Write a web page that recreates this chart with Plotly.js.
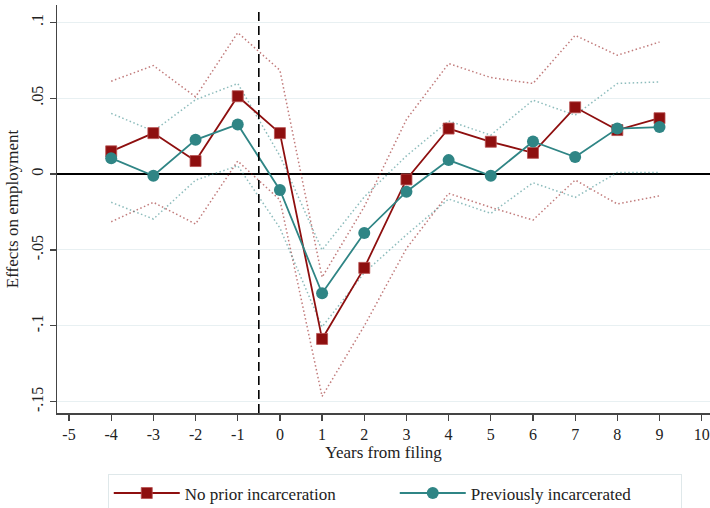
<!DOCTYPE html>
<html>
<head>
<meta charset="utf-8">
<script src="https://cdn.plot.ly/plotly-3.0.1.min.js"></script>
<style>html,body{margin:0;padding:0;background:#fff;}#chart{width:710px;height:508px;}</style>
</head>
<body>
<div id="chart"></div>
<script>
const years = [-4, -3, -2, -1, 0, 1, 2, 3, 4, 5, 6, 7, 8, 9];
const noPrior = [0.015, 0.027, 0.0086, 0.0513, 0.027, -0.1086, -0.0618, -0.0035, 0.030, 0.0213, 0.014, 0.044, 0.029, 0.0368];
const noPriorUpper = [0.0612, 0.0715, 0.0509, 0.0932, 0.0684, -0.068, -0.0215, 0.036, 0.0728, 0.0636, 0.0597, 0.0914, 0.0783, 0.087];
const noPriorLower = [-0.0314, -0.0186, -0.0329, 0.0086, -0.017, -0.1465, -0.10, -0.049, -0.0127, -0.0219, -0.0303, -0.0039, -0.0197, -0.0143];
const prevInc = [0.0105, -0.0011, 0.0226, 0.0327, -0.0105, -0.0785, -0.0388, -0.0116, 0.0092, -0.0011, 0.0215, 0.0112, 0.030, 0.031];
const prevIncUpper = [0.040, 0.0283, 0.049, 0.0597, 0.012, -0.05, -0.015, 0.012, 0.035, 0.0257, 0.0487, 0.0388, 0.0597, 0.0607];
const prevIncLower = [-0.0186, -0.0296, -0.004, 0.0055, -0.0355, -0.1007, -0.065, -0.04, -0.0164, -0.0259, -0.0057, -0.0153, 0.0011, 0.0011];
const xTicks = [-5, -4, -3, -2, -1, 0, 1, 2, 3, 4, 5, 6, 7, 8, 9, 10];
const yTickVals = [-0.15, -0.1, -0.05, 0, 0.05, 0.1];
const yTickText = ['-.15', '-.1', '-.05', '0', '.05', '.1'];
const seriesNames = ['No prior incarceration', 'Previously incarcerated'];

const red = '#8e0f0f';
const teal = '#2f8585';
const font = 'Liberation Serif, Times New Roman, serif';

function ci(y, color) {
  return {x: years, y: y, type: 'scatter', mode: 'lines', showlegend: false, hoverinfo: 'skip',
    line: {color: color, width: 1.5, dash: '1.5px,2.5px'}, opacity: 0.55};
}

const data = [
  ci(noPriorUpper, red), ci(noPriorLower, red),
  ci(prevIncUpper, teal), ci(prevIncLower, teal),
  {x: years, y: noPrior, type: 'scatter', mode: 'lines+markers', name: seriesNames[0],
   line: {color: red, width: 1.8}, marker: {symbol: 'square', size: 11, color: red, line: {color: '#b85050', width: 0.8}}},
  {x: years, y: prevInc, type: 'scatter', mode: 'lines+markers', name: seriesNames[1],
   line: {color: teal, width: 1.8}, marker: {symbol: 'circle', size: 12, color: teal}}
];

const layout = {
  width: 710, height: 508,
  margin: {l: 57, r: 0, t: 5, b: 95, autoexpand: false},
  paper_bgcolor: '#fff', plot_bgcolor: '#fff',
  font: {family: font, color: '#222', size: 16},
  showlegend: true,
  xaxis: {
    range: [-5.285, 10.197], tickvals: xTicks, ticktext: xTicks.map(String),
    showgrid: false, zeroline: false, showline: true, linecolor: '#444', linewidth: 1.5,
    ticks: 'outside', ticklen: 6, tickcolor: '#444', tickwidth: 1.2,
    tickfont: {family: font, size: 16, color: '#222'},
    title: {text: 'Years from filing', font: {family: font, size: 17, color: '#222'}, standoff: 4}
  },
  yaxis: {
    range: [-0.1574, 0.1114], tickvals: yTickVals, ticktext: yTickText, tickangle: -90,
    showgrid: true, gridcolor: '#e8f0f2', gridwidth: 1,
    zeroline: true, zerolinecolor: '#000', zerolinewidth: 1.6,
    showline: true, linecolor: '#444', linewidth: 1.5,
    ticks: 'outside', ticklen: 6, tickcolor: '#444', tickwidth: 1.2,
    tickfont: {family: font, size: 16, color: '#222'},
    title: {text: 'Effects on employment', font: {family: font, size: 17, color: '#222'}, standoff: 6}
  },
  shapes: [
    {type: 'line', xref: 'x', yref: 'paper', x0: -0.5, x1: -0.5, y0: 0, y1: 0.985,
     line: {color: '#000', width: 1.6, dash: '9px,5px'}}
  ],
  legend: {
    orientation: 'h', xref: 'container', yref: 'container', x: 0.556, xanchor: 'center', y: 0.066, yanchor: 'top',
    bordercolor: '#dfe8ea', borderwidth: 1, bgcolor: '#fff',
    font: {family: font, size: 17, color: '#222'},
    itemwidth: 66, entrywidth: 205, traceorder: 'normal'
  }
};

Plotly.newPlot('chart', data, layout, {displayModeBar: false, staticPlot: true});
</script>
</body>
</html>
